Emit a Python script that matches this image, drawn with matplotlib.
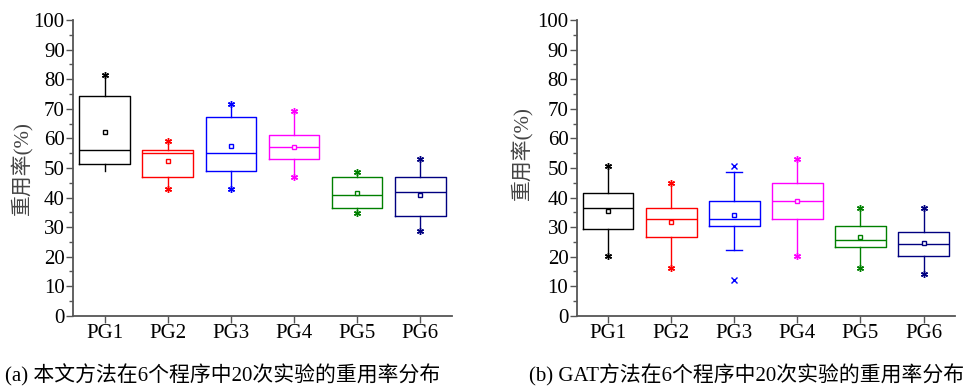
import matplotlib
matplotlib.use("Agg")
import matplotlib.pyplot as plt
from matplotlib.ticker import MultipleLocator

plt.rcParams['font.family'] = ['Liberation Serif', 'Noto Sans CJK SC']

programs = ['PG1', 'PG2', 'PG3', 'PG4', 'PG5', 'PG6']
colors = ['black', 'red', 'blue', 'magenta', 'green', 'navy']

# (a) this method: q1, median, q3, whisker low, whisker high, mean, min, max
a_q1 = [51.2, 46.9, 48.9, 53.1, 36.6, 33.7]
a_med = [56.0, 55.2, 55.1, 57.2, 40.7, 41.8]
a_q3 = [74.4, 56.1, 67.3, 61.2, 46.8, 46.8]
a_wlo = [49.0, 42.8, 42.8, 46.9, 34.8, 28.8]
a_whi = [81.5, 59.2, 71.5, 69.4, 48.8, 52.9]
a_mean = [62.0, 52.5, 57.5, 57.0, 41.4, 40.9]
a_min = [None, 42.8, 42.8, 46.9, 34.8, 28.8]
a_max = [81.5, 59.2, 71.5, 69.4, 48.8, 52.9]

# (b) GAT
b_q1 = [29.4, 26.5, 30.4, 32.6, 23.3, 20.3]
b_med = [36.6, 32.6, 32.6, 38.7, 25.5, 24.4]
b_q3 = [41.6, 36.5, 38.7, 44.8, 30.4, 28.4]
b_wlo = [20.3, 16.2, 22.4, 20.3, 16.2, 14.1]
b_whi = [50.8, 44.8, 48.8, 52.9, 36.6, 36.6]
b_mean = [35.6, 31.8, 34.0, 38.8, 26.5, 24.6]
b_min = [20.3, 16.2, 12.1, 20.3, 16.2, 14.1]
b_max = [50.8, 44.8, 50.8, 52.9, 36.6, 36.6]
b_caps = [False, False, True, False, False, False]

captions = ['(a) 本文方法在6个程序中20次实验的重用率分布',
            '(b) GAT方法在6个程序中20次实验的重用率分布']

fig = plt.figure(figsize=(9.68, 3.87), dpi=100)
ax1 = fig.add_axes([0.0754, 0.184, 0.3915, 0.764])
ax2 = fig.add_axes([0.5958, 0.184, 0.3908, 0.764])


def draw(ax, q1, med, q3, wlo, whi, mean, mn, mx, caps=None, label_x=-0.11, label_y=0.5):
    pos = list(range(1, len(programs) + 1))
    for i, p in enumerate(pos):
        c = colors[i]
        cap = caps[i] if caps else False
        st = dict(med=med[i], q1=q1[i], q3=q3[i], whislo=wlo[i], whishi=whi[i],
                  mean=mean[i], fliers=[])
        ax.bxp([st], positions=[p], widths=0.8, showmeans=True,
               showcaps=cap, showfliers=False, capwidths=0.25,
               boxprops=dict(color=c, lw=1.0),
               whiskerprops=dict(color=c, lw=1.0),
               capprops=dict(color=c, lw=1.0),
               medianprops=dict(color=c, lw=1.0),
               meanprops=dict(marker='s', markersize=3.5, markerfacecolor='white',
                              markeredgecolor=c, markeredgewidth=1.0))
        mk = 'x' if cap else (6, 2, 0)
        for v in (mn[i], mx[i]):
            if v is not None:
                ax.plot([p], [v], marker=mk, color=c, markersize=5, mew=1.0, ls='none')
    ax.set_xlim(0.5, 6.5)
    ax.set_ylim(0, 100)
    ax.set_xticks(pos)
    ax.set_xticklabels(programs)
    ax.yaxis.set_major_locator(MultipleLocator(10))
    ax.yaxis.set_minor_locator(MultipleLocator(5))
    for s in ['top', 'right']:
        ax.spines[s].set_visible(False)
    for s in ['left', 'bottom']:
        ax.spines[s].set_color('#555555')
        ax.spines[s].set_linewidth(1.3)
    ax.tick_params(which='major', direction='out', length=5, width=1.0,
                   color='#555555', labelsize=15, pad=1)
    ax.tick_params(which='minor', direction='out', length=3, width=1.0,
                   color='#555555')
    ax.tick_params(axis='x', which='minor', bottom=False)
    ax.set_ylabel('重用率(%)', fontsize=15, color='#444444')
    ax.yaxis.set_label_coords(label_x, label_y)


draw(ax1, a_q1, a_med, a_q3, a_wlo, a_whi, a_mean, a_min, a_max,
     label_x=-0.108, label_y=0.5)
draw(ax2, b_q1, b_med, b_q3, b_wlo, b_whi, b_mean, b_min, b_max, caps=b_caps,
     label_x=-0.118, label_y=0.55)

fig.text(0.005, 0.015, captions[0], fontsize=15)
fig.text(0.547, 0.015, captions[1], fontsize=15)

fig.savefig('out.png', dpi=100)
